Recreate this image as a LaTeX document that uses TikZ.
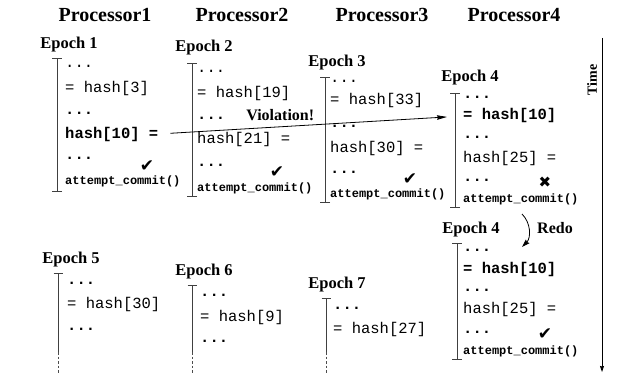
\documentclass[tikz,border=0pt]{standalone}
\usepackage{fontspec}
\setmainfont{Liberation Serif}
\setmonofont{Liberation Mono}
\newfontfamily\symfont{DejaVu Sans}
\usetikzlibrary{arrows.meta}
\begin{document}
\begin{tikzpicture}[x=1pt,y=-1pt,
  proc/.style={font=\bfseries\fontsize{20}{24}\selectfont},
  epoch/.style={font=\bfseries\fontsize{16.5}{20}\selectfont,inner sep=0pt},
  code/.style={anchor=base west,inner sep=0pt,font=\ttfamily\fontsize{15.5}{18}\selectfont},
  codeb/.style={anchor=base west,inner sep=0pt,font=\ttfamily\bfseries\fontsize{15.5}{18}\selectfont},
  commit/.style={anchor=base west,inner sep=0pt,font=\ttfamily\bfseries\fontsize{12}{14}\selectfont},
  okmark/.style={inner sep=0pt,font=\symfont\fontsize{17}{17}\selectfont},
  nomark/.style={inner sep=0pt,font=\symfont\fontsize{15}{15}\selectfont},
  tl/.style={line width=1pt,draw=black!75},
  tlcap/.style={tl,{Bar[width=10pt]}-{Bar[width=10pt]}},
  tltop/.style={tl,{Bar[width=9pt]}-},
  tldash/.style={draw=black!70,line width=0.6pt,dash pattern=on 2.5pt off 2pt},
  lbl/.style={font=\bfseries\fontsize{16}{18}\selectfont,inner sep=1pt}
]
\useasboundingbox (0,0) rectangle (631,377);

% headers
\node[proc] (p1) at (105,15) {Processor1};
\node[proc] (p2) at (242,15) {Processor2};
\node[proc] (p3) at (382,15) {Processor3};
\node[proc] (p4) at (514,15) {Processor4};

% Epoch 1
\node[epoch] (ep1) at (69,45) {Epoch 1};
\draw[tlcap] (57,58) -- (57,192);
\node[code]  (e1a) at (65,68)  {...};
\node[code]  (e1b) at (65,93)  {= hash[3]};
\node[codeb] (e1c) at (65,114) {...};
\node[codeb] (e1d) at (65,138) {hash[10] =};
\node[codeb] (e1e) at (65,159) {...};
\node[commit](e1f) at (65,184) {attempt\_commit()};
\node[okmark] (c1) at (147,166) {✔};

% Epoch 2
\node[epoch] (ep2) at (204,48) {Epoch 2};
\draw[tlcap] (192,63) -- (192,197);
\node[code]  (e2a) at (197,73)  {...};
\node[code]  (e2b) at (197,98)  {= hash[19]};
\node[codeb] (e2c) at (197,119) {...};
\node[code]  (e2d) at (197,143) {hash[21] =};
\node[codeb] (e2e) at (197,166) {...};
\node[commit](e2f) at (197,191) {attempt\_commit()};
\node[okmark] (c2) at (277,172) {✔};

% Epoch 3
\node[epoch] (ep3) at (337,63) {Epoch 3};
\draw[tlcap] (325,77) -- (325,203);
\node[code]  (e3a) at (330,83)  {...};
\node[code]  (e3b) at (330,105) {= hash[33]};
\node[codeb] (e3c) at (330,128) {...};
\node[code]  (e3d) at (330,152) {hash[30] =};
\node[codeb] (e3e) at (330,173) {...};
\node[commit](e3f) at (330,197) {attempt\_commit()};
\node[okmark] (c3) at (410,179) {✔};

% Epoch 4
\node[epoch] (ep4) at (470,78) {Epoch 4};
\draw[tlcap] (455,93) -- (455,208);
\node[codeb] (e4a) at (463,99)  {...};
\node[codeb] (e4b) at (463,120) {= hash[10]};
\node[codeb] (e4c) at (463,139) {...};
\node[code]  (e4d) at (463,162) {hash[25] =};
\node[codeb] (e4e) at (463,181) {...};
\node[commit](e4f) at (463,202) {attempt\_commit()};
\node[nomark] (x4) at (545,182) {✖};

% Epoch 4 redo
\node[epoch] (ep4r) at (471,230) {Epoch 4};
\draw[tlcap] (457,243) -- (457,360);
\node[codeb] (r4a) at (463,251) {...};
\node[codeb] (r4b) at (463,273) {= hash[10]};
\node[codeb] (r4c) at (463,291) {...};
\node[code]  (r4d) at (463,313) {hash[25] =};
\node[codeb] (r4e) at (463,333) {...};
\node[commit](r4f) at (463,354) {attempt\_commit()};
\node[okmark] (c4) at (545,334) {✔};

% Epoch 5
\node[epoch] (ep5) at (71,260) {Epoch 5};
\draw[tltop] (58,273) -- (58,352);
\draw[tldash] (58,352) -- (58,374);
\node[codeb] (e5a) at (67,284) {...};
\node[code]  (e5b) at (67,308) {= hash[30]};
\node[codeb] (e5c) at (67,330) {...};

% Epoch 6
\node[epoch] (ep6) at (204,272) {Epoch 6};
\draw[tltop] (192,285) -- (192,352);
\draw[tldash] (192,352) -- (192,374);
\node[codeb] (e6a) at (200,296) {...};
\node[code]  (e6b) at (200,321) {= hash[9]};
\node[codeb] (e6c) at (200,342) {...};

% Epoch 7
\node[epoch] (ep7) at (337,285) {Epoch 7};
\draw[tltop] (326,298) -- (326,352);
\draw[tldash] (326,352) -- (326,374);
\node[codeb] (e7a) at (333,309) {...};
\node[code]  (e7b) at (333,333) {= hash[27]};

% Violation arrow
\draw[line width=0.8pt,-{Stealth[length=10pt,width=4.5pt,inset=1pt]},shorten <=12pt,shorten >=16pt]
  (e1d.east) -- (e4b.west) node[lbl,pos=0.4,above=5pt] (viol) {Violation!};

% Redo arrow
\coordinate (rA) at (522,214);
\coordinate (rB) at (522,247);
\draw[line width=0.8pt,-{Stealth[length=8pt,width=5pt,inset=1pt]}] (rA) to[bend left=45] (rB);
\node[lbl,anchor=west] (redo) at (536,228) {Redo};

% Time axis
\coordinate (tA) at (602,38);
\coordinate (tB) at (602,372);
\draw[line width=0.8pt,-{Stealth[length=6pt,width=4pt,inset=0.5pt]}] (tA) -- (tB);
\node[rotate=90,font=\bfseries\fontsize{14}{16}\selectfont,inner sep=0pt] (time) at (592,80) {Time};
\end{tikzpicture}
\end{document}
